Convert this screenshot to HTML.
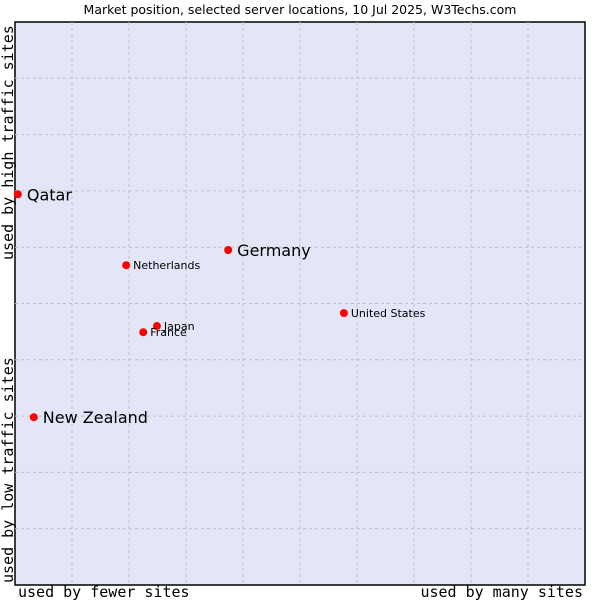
<!DOCTYPE html>
<html><head><meta charset="utf-8"><style>
body{margin:0;background:#fff;}
svg text{font-family:"DejaVu Sans","Liberation Sans",sans-serif;}
.mono{font-family:"DejaVu Sans Mono","Liberation Mono",monospace;font-size:15px;}
</style></head><body>
<svg id="chart" width="600" height="600">
<text x="300" y="14" text-anchor="middle" font-size="12.5" fill="#000">Market position, selected server locations, 10 Jul 2025, W3Techs.com</text>
<rect x="15" y="22" width="570" height="563" fill="#e4e6f8" stroke="#000" stroke-width="1.5"/>
<g id="grid"></g>
<g id="points"></g>
<text class="mono" x="18" y="597">used by fewer sites</text>
<text class="mono" x="583" y="597" text-anchor="end">used by many sites</text>
<text class="mono" transform="translate(13,583) rotate(-90)">used by low traffic sites</text>
<text class="mono" transform="translate(13,260) rotate(-90)">used by high traffic sites</text>
</svg>
<script>
const names = ["Qatar","Germany","Netherlands","United States","Japan","France","New Zealand"];
const xValues = [0.5,37.4,19.5,57.7,24.9,22.5,3.3];
const yValues = [69.4,59.5,56.8,48.3,46.0,44.9,29.8];
const bigLabel = [true,true,false,false,false,false,true];
const L=15,T=22,W=570,H=563;
const sx=v=>L+v/100*W, sy=v=>T+H-v/100*H;
const NS="http://www.w3.org/2000/svg";
const grid=document.getElementById('grid');
for(let i=1;i<10;i++){
  const v=document.createElementNS(NS,'line');
  v.setAttribute('x1',sx(i*10));v.setAttribute('x2',sx(i*10));v.setAttribute('y1',T);v.setAttribute('y2',T+H);
  v.setAttribute('stroke','#c0c0c0');v.setAttribute('stroke-dasharray','3,3');
  
  
  grid.appendChild(v);
  const h=document.createElementNS(NS,'line');
  h.setAttribute('y1',sy(i*10));h.setAttribute('y2',sy(i*10));h.setAttribute('x1',L);h.setAttribute('x2',L+W);
  h.setAttribute('stroke','#c0c0c0');h.setAttribute('stroke-dasharray','3,3');
  
  
  grid.appendChild(h);
}
const pts=document.getElementById('points');
names.forEach((n,i)=>{
  const x=sx(xValues[i]),y=sy(yValues[i]);
  const c=document.createElementNS(NS,'circle');
  c.setAttribute('cx',x);c.setAttribute('cy',y);c.setAttribute('r',4);c.setAttribute('fill','#f00');
  
  
  pts.appendChild(c);
  const t=document.createElementNS(NS,'text');
  t.setAttribute('x',x+(bigLabel[i]?9:7));
  t.setAttribute('y',y+(bigLabel[i]?6:4));
  t.setAttribute('font-size',bigLabel[i]?16:11);
  t.textContent=n;
  
  
  pts.appendChild(t);
});
</script>
</body></html>
